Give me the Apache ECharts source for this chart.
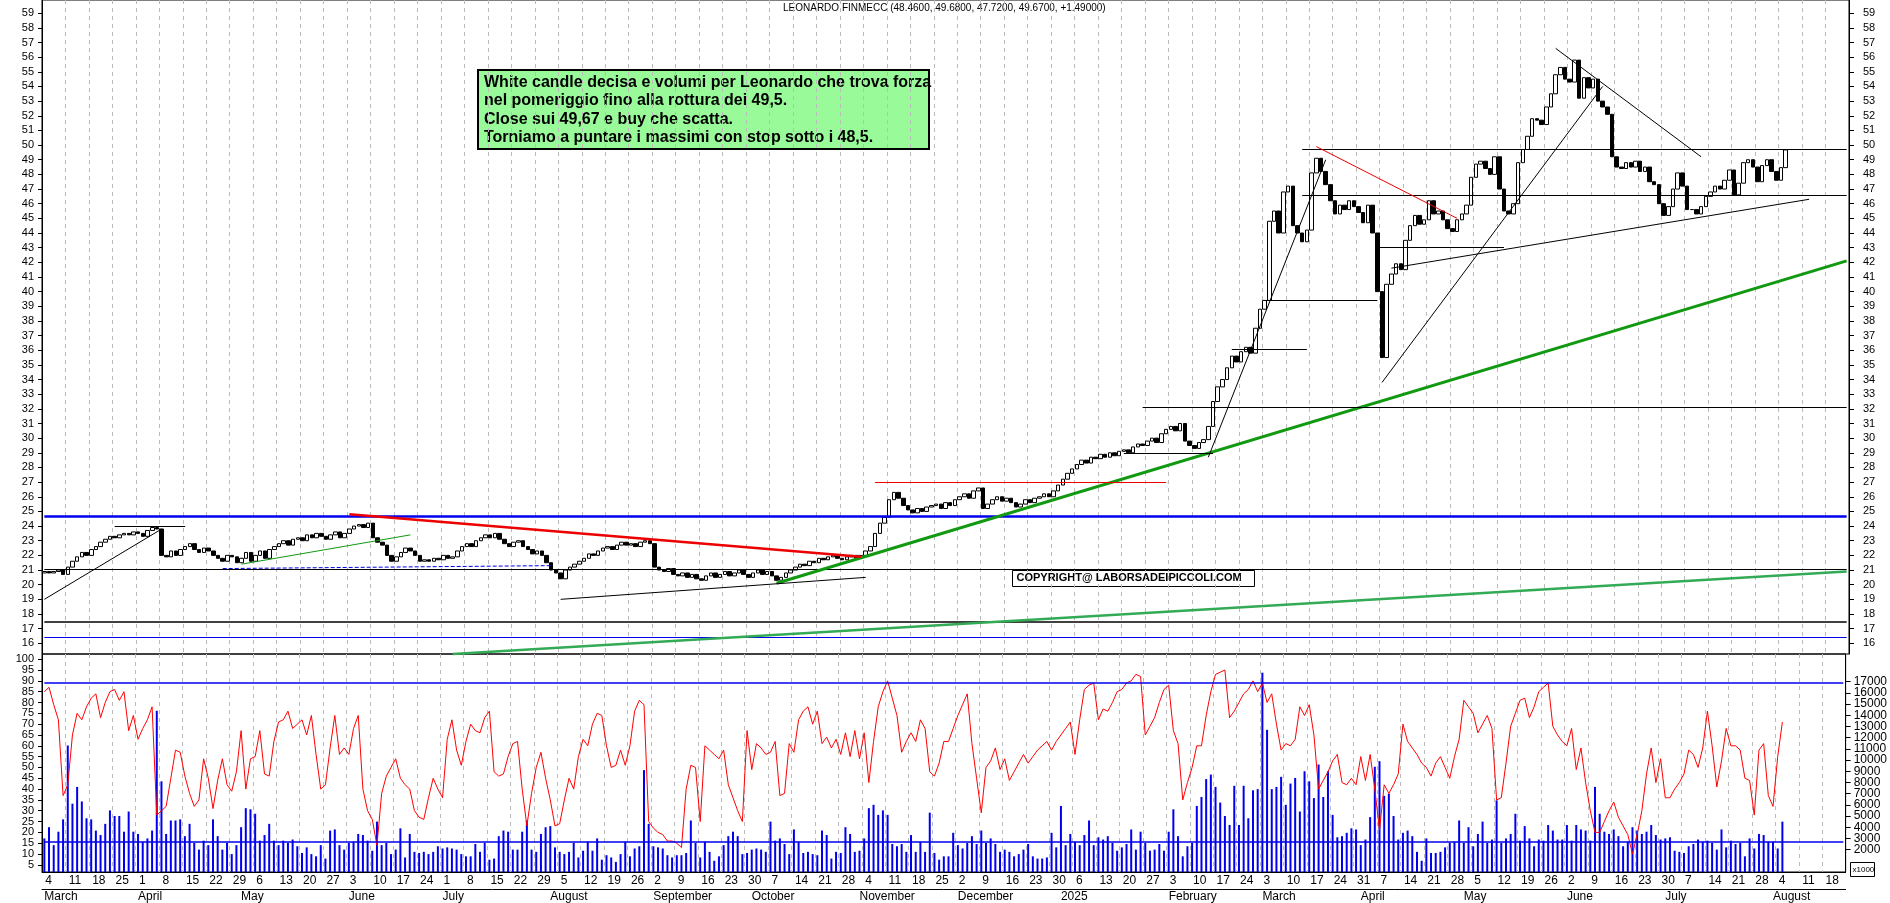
<!DOCTYPE html>
<html><head><meta charset="utf-8">
<script src="https://cdn.jsdelivr.net/npm/echarts@6/dist/echarts.min.js"></script>
<style>html,body{margin:0;padding:0;background:#fff}#c{width:1890px;height:903px}</style>
</head><body><div id="c"></div>
<script>
// closes, one line per week (Mon..Fri), 4 Mar 2024 .. 5 Aug 2025
var closes = [
20.9,20.8,20.9,21.0,20.7, 21.2,21.6,21.9,22.2,22.0, 22.4,22.6,22.9,23.1,23.3, 23.2,23.4,23.5,23.4,23.6,
23.5,23.3,23.7,23.9,23.8, 22.0,21.9,22.3,22.0,22.4, 22.6,22.8,22.4,22.2,22.5, 22.3,22.0,21.8,21.6,22.0,
21.9,21.5,21.8,22.2,21.6, 22.0,22.3,21.8,22.4,22.6, 22.8,23.0,22.7,23.1,23.2, 23.0,23.4,23.2,23.5,23.3,
23.1,23.4,23.6,23.2,23.5, 23.8,24.0,24.1,23.9,24.2, 23.2,22.9,22.7,22.0,21.6, 21.9,22.2,22.5,22.3,22.0,
21.6,21.7,21.6,21.8,21.7, 22.0,21.8,21.9,22.3,22.6, 22.8,22.6,23.0,23.2,23.4, 23.2,23.5,23.1,22.8,22.6,
22.9,23.0,22.6,22.4,22.1, 22.3,22.0,21.5,21.0,20.8, 20.4,21.0,21.2,21.4,21.6, 21.8,22.1,22.0,22.3,22.5,
22.6,22.4,22.7,22.9,22.7, 22.8,22.6,22.9,23.0,22.8, 21.2,21.0,20.9,21.1,20.7, 20.6,20.8,20.5,20.7,20.4,
20.3,20.6,20.8,20.5,20.7, 20.9,20.6,20.8,21.0,20.7, 20.5,20.8,21.0,20.7,20.9, 20.6,20.3,20.5,20.8,21.0,
21.2,21.4,21.3,21.6,21.5, 21.8,21.7,21.9,22.0,21.8, 21.7,21.9,22.0,21.8,22.0, 22.3,22.6,23.5,24.2,24.6,
25.8,26.3,25.9,25.4,25.1, 24.9,25.2,25.0,25.3,25.4, 25.5,25.2,25.6,25.4,25.8, 26.0,26.2,25.9,26.4,26.6,
25.2,25.5,25.8,26.0,25.7, 25.9,25.6,25.3,25.5,25.8, 25.6,25.9,26.0,26.2,26.0, 26.4,26.8,27.2,27.6,27.9,
28.2,28.5,28.3,28.7,28.6, 28.9,28.7,29.0,28.8,29.1, 29.2,29.0,29.4,29.6,29.5, 29.8,30.0,29.7,30.3,30.6,
30.8,30.5,31.0,29.8,29.5, 29.3,29.7,29.9,30.8,32.5, 33.5,34.0,34.8,35.6,35.2, 35.9,36.2,35.8,37.5,38.8,
39.4,44.8,45.5,44.0,46.8, 47.2,44.5,44.0,43.4,44.2, 48.1,49.1,48.2,47.3,46.2, 45.3,45.9,45.6,46.2,45.8,
45.4,44.7,45.9,44.0,40.0, 35.5,40.5,41.2,41.9,41.5, 43.5,44.5,45.2,44.6,44.9, 46.2,45.3,45.5,44.9,44.3,
44.1,44.9,45.3,45.9,47.8, 48.7,48.9,48.4,48.0,49.2, 47.0,45.5,45.3,46.0,48.8, 49.7,50.6,51.8,51.7,51.4,
52.6,53.5,54.8,55.3,54.5, 54.3,55.8,53.2,54.6,53.9, 54.5,53.0,52.6,52.1,49.2, 48.5,48.4,48.8,48.5,48.9,
48.2,48.5,47.5,47.3,46.0, 45.2,45.8,47.0,48.1,47.2, 45.6,45.6,45.3,45.8,46.5, 46.8,47.2,47.0,47.6,48.3,
46.6,47.4,48.8,49.0,48.5, 47.5,48.6,49.0,48.2,47.6, 48.46,49.67
];
var osc = [
85,87,79,72,37, 42,65,75,72,78, 82,84,73,80,85, 86,81,85,67,74, 63,68,72,78,28, 30,32,45,58,57,
46,38,32,35,54, 45,31,44,54,42, 39,48,67,40,54, 55,67,47,46,62, 71,72,76,68,70, 72,65,74,56,40,
42,59,74,56,59, 56,68,74,40,30, 26,14,38,46,50, 54,45,42,40,30, 27,26,36,45,40, 36,63,72,58,51,
62,70,67,66,73, 76,48,46,47,55, 61,62,40,23,38, 50,57,45,35,23, 24,35,45,40,55, 63,60,70,75,74,
60,50,51,58,51, 60,76,81,79,25, 22,20,19,16,16, 15,13,40,51,50, 25,60,58,56,54, 58,42,36,30,25,
67,49,61,59,56, 57,62,37,38,61, 57,72,76,78,70, 76,61,64,59,63, 56,66,55,67,54, 66,43,62,78,85,
90,82,74,57,62, 66,62,72,68,48, 46,52,62,62,68, 74,79,84,61,45, 29,50,53,59,49, 54,44,48,52,56,
52,55,58,60,62, 58,62,65,68,71, 56,72,86,88,89, 72,77,76,80,85, 86,89,90,93,92, 65,69,73,80,86,
88,67,61,35,43, 50,60,60,74,85, 93,94,95,73,76, 80,84,86,90,85, 89,80,84,70,58, 61,60,63,78,74,
79,65,40,44,48, 53,56,43,42,45, 42,55,44,56,40, 21,42,38,42,47, 70,62,59,56,52, 50,46,52,55,50,
45,55,63,81,78, 75,66,70,74,68, 35,36,52,69,75, 81,82,73,78,85, 87,89,69,65,62, 60,68,49,59,43,
30,20,20,25,30, 34,27,23,19,10, 19,30,47,59,43, 54,36,36,40,43, 47,58,56,50,59, 76,60,41,53,68,
60,60,58,45,44, 28,58,61,37,32, 55,71
];
// volume in thousands
var vol = [
3.0,4.0,2.4,3.6,4.7, 11.3,6.1,7.6,6.3,4.8, 4.7,3.7,3.3,4.3,5.5, 5.0,5.0,3.6,5.4,3.6, 3.4,2.7,3.0,3.7,14.4,
8.1,3.4,4.6,4.6,4.7, 3.2,4.3,2.6,2.0,2.8, 2.4,4.7,3.2,2.0,2.6, 1.6,2.4,4.0,5.7,5.6, 5.2,2.8,3.3,4.3,2.8,
2.4,2.8,2.6,2.9,2.3, 1.7,2.2,1.6,1.4,2.4, 1.2,3.7,3.8,2.4,2.0, 2.6,2.7,3.4,3.3,2.8, 1.9,4.5,2.4,2.6,1.6,
2.0,3.9,1.3,3.4,1.8, 1.7,1.8,1.6,1.8,2.3, 2.1,2.2,2.1,2.0,1.6, 1.4,1.4,2.5,1.8,2.6, 1.1,1.2,3.2,3.7,3.6,
2.0,2.0,3.6,4.6,2.0, 1.8,3.4,4.0,4.1,2.2, 1.8,1.6,1.8,2.6,1.3, 1.9,2.7,1.9,3.0,1.1, 1.5,1.3,0.9,1.6,2.7,
1.4,2.1,2.3,9.1,4.3, 2.3,2.2,2.1,1.5,1.3, 1.5,1.5,1.7,4.6,2.6, 1.3,2.7,1.8,1.0,1.4, 2.4,3.2,3.6,3.2,1.6,
1.7,2.0,2.1,2.0,1.8, 4.5,2.8,3.0,2.5,1.6, 3.8,2.7,1.7,1.8,1.6, 1.5,3.7,3.3,1.2,1.8, 1.7,4.0,3.4,1.8,1.9,
3.0,5.7,6.0,5.1,5.5, 5.1,2.5,2.3,2.5,1.8, 3.3,1.8,2.7,1.8,5.3, 1.7,1.1,1.4,1.4,3.5, 2.4,2.1,2.6,3.2,2.5,
3.7,2.6,3.0,2.5,1.8, 2.0,1.8,1.4,1.6,2.0, 2.5,1.4,1.2,1.2,1.3, 3.5,2.2,5.9,2.4,3.4, 2.7,2.4,3.3,4.6,2.4,
3.1,2.9,3.2,2.6,1.9, 2.2,2.5,3.8,2.0,3.6, 2.6,1.9,2.0,2.5,1.9, 3.6,5.6,3.2,1.4,2.3, 2.6,5.9,6.7,8.3,8.7,
7.6,6.2,5.0,4.2,7.7, 4.2,7.7,4.8,7.3,7.4, 17.8,12.7,7.4,7.6,8.5, 6.0,7.9,8.4,5.4,9.0, 8.1,6.6,9.6,6.7,9.0,
5.1,3.1,3.2,3.5,3.9, 3.8,2.4,2.9,4.9,9.4, 9.9,6.8,7.0,5.0,2.9, 3.5,3.7,3.2,1.8,1.0, 3.0,1.7,1.7,1.8,2.2,
2.6,2.7,4.6,2.6,4.0, 2.3,3.4,4.5,2.6,2.9, 6.4,2.6,3.0,3.4,5.2, 2.8,4.1,3.0,2.3,2.9, 2.8,4.2,3.7,2.9,2.9,
4.2,2.8,4.2,3.8,3.7, 2.8,7.6,5.2,3.6,3.4, 3.8,3.2,2.3,2.7,4.0, 3.7,3.4,3.6,4.2,3.3, 2.9,3.0,3.1,1.9,1.8,
1.7,2.3,2.5,2.9,2.7, 2.8,2.6,2.0,3.8,2.2, 2.8,2.5,2.6,1.4,3.0, 2.1,3.4,3.3,2.7,2.7, 2.1,4.5
];
var priceTicks = [];
for (var p = 16; p <= 59; p++) priceTicks.push(p);
var oscTicks = [5,10,15,20,25,30,35,40,45,50,55,60,65,70,75,80,85,90,95,100];
var volTicks = [1000,2000,3000,4000,5000,6000,7000,8000,9000,10000,11000,12000,13000,14000,15000,16000,17000,18000];
var months = ['January','February','March','April','May','June','July','August','September','October','November','December'];

// trading days (weekdays) up to the end of the axis
var dates = [];
var d = new Date(Date.UTC(2024, 2, 4));
var end = new Date(Date.UTC(2025, 7, 22));
while (d <= end) {
    var wd = d.getUTCDay();
    if (wd > 0 && wd < 6) dates.push(d.toISOString().slice(0, 10));
    d = new Date(d.getTime() + 86400000);
}
function dayOf(s){ return new Date(s + 'T00:00:00Z'); }
function isMonday(i){ return dayOf(dates[i]).getUTCDay() === 1; }
function isMonthStart(i){ return i === 0 || dates[i].slice(5, 7) !== dates[i - 1].slice(5, 7); }

var candles = [];
for (var i = 0; i < closes.length; i++) {
    var o = i === 0 ? closes[0] - 0.1 : closes[i - 1];
    var c = closes[i];
    candles.push([o, c, Math.min(o, c), Math.max(o, c)]);
}
var volData = vol.map(function(v){ return v * 1000; });

function seg(a, va, b, vb, color, width, type){
    return [{coord: [a, va], lineStyle: {color: color, width: width, type: type || 'solid'}}, {coord: [b, vb]}];
}
var last = dates[dates.length - 1];
var priceLines = [
    seg('2024-03-04', 24.7, last, 24.7, '#0000ee', 2.5),
    seg('2024-03-04', 21.05, last, 21.05, '#000', 1.2),
    seg('2024-03-04', 17.5, last, 17.5, '#000', 1.5),
    seg('2024-03-04', 16.4, last, 16.4, '#0000ee', 1.2),
    seg('2024-10-08', 20.1, last, 42.1, '#119911', 3),
    seg('2024-07-03', 15.27, last, 20.9, '#33aa55', 2.5),
    seg('2024-03-04', 19.0, '2024-04-08', 23.8, '#000', 1),
    seg('2024-03-25', 24.0, '2024-04-15', 24.0, '#000', 1),
    seg('2024-06-03', 24.8, '2024-11-01', 21.9, '#ee0000', 2.5),
    seg('2024-04-25', 21.1, '2024-08-01', 21.3, '#0000ee', 1, 'dashed'),
    seg('2024-05-01', 21.4, '2024-06-20', 23.4, '#119911', 1),
    seg('2024-08-05', 19.0, '2024-11-04', 20.5, '#000', 1),
    seg('2024-11-06', 27.0, '2025-01-31', 27.0, '#ee0000', 1),
    seg('2025-01-20', 29.0, '2025-02-14', 29.0, '#000', 1),
    seg('2025-01-24', 32.1, last, 32.1, '#000', 1.2),
    seg('2025-02-13', 28.7, '2025-03-20', 49.0, '#000', 1),
    seg('2025-02-20', 36.1, '2025-03-14', 36.1, '#000', 1),
    seg('2025-03-03', 39.4, '2025-04-04', 39.4, '#000', 1.2),
    seg('2025-03-13', 49.7, last, 49.7, '#000', 1.2),
    seg('2025-03-13', 46.6, last, 46.6, '#000', 1.2),
    seg('2025-03-18', 49.9, '2025-04-29', 45.0, '#ee0000', 1),
    seg('2025-04-04', 43.0, '2025-05-13', 43.0, '#000', 1),
    seg('2025-04-09', 41.6, '2025-08-12', 46.3, '#000', 1),
    seg('2025-04-07', 33.8, '2025-06-11', 54.0, '#000', 1),
    seg('2025-05-28', 56.6, '2025-07-10', 49.2, '#000', 1)
];
var oscLines = [
    seg('2024-03-04', 89, last, 89, '#0000ee', 1.5),
    seg('2024-03-04', 15.5, last, 15.5, '#0000ee', 1.5)
];

var font = 'Liberation Sans';
var chart = echarts.init(document.getElementById('c'));
var splitV = {show: true, interval: function(i){ return isMonday(i); }, lineStyle: {color: '#bbb', type: [4, 4]}};
chart.setOption({
    animation: false,
    backgroundColor: '#fff',
    grid: [
        {left: 42, right: 41, top: 0, height: 654, show: true, borderColor: '#000', borderWidth: 1},
        {left: 42, right: 41, top: 654, height: 224, show: true, borderColor: '#000', borderWidth: 1}
    ],
    xAxis: [
        {type: 'category', gridIndex: 0, data: dates, boundaryGap: true,
         axisLine: {show: false}, axisTick: {show: false}, axisLabel: {show: false}, splitLine: splitV},
        {type: 'category', gridIndex: 1, data: dates, boundaryGap: true,
         axisLine: {lineStyle: {color: '#000'}},
         axisTick: {interval: function(i){ return isMonday(i); }, length: 16, inside: false, lineStyle: {color: '#000'}},
         axisLabel: {interval: function(i){ return isMonday(i); }, formatter: function(v){ return String(dayOf(v).getUTCDate()); },
                     color: '#000', fontFamily: font, fontSize: 12, margin: 3, align: 'left', padding: [0, 0, 0, 1]},
         splitLine: splitV},
        {type: 'category', gridIndex: 1, data: dates, boundaryGap: true, position: 'bottom', offset: 17,
         axisLine: {lineStyle: {color: '#000'}},
         axisTick: {interval: function(i){ return isMonthStart(i); }, length: 10, inside: true, lineStyle: {color: '#000'}},
         axisLabel: {interval: function(i){ return isMonthStart(i); },
                     formatter: function(v){ var m = +v.slice(5, 7) - 1; return (m === 0 ? v.slice(0, 4) : months[m]); },
                     color: '#000', fontFamily: font, fontSize: 12, margin: 2, align: 'left'}}
    ],
    yAxis: [
        {type: 'value', gridIndex: 0, min: 15.27, max: 59.9, position: 'left',
         axisLine: {show: true, lineStyle: {color: '#000'}}, splitLine: {show: false},
         axisTick: {show: true, customValues: priceTicks, length: 4, lineStyle: {color: '#000'}},
         axisLabel: {customValues: priceTicks, color: '#000', fontFamily: font, fontSize: 11, margin: 8}},
        {type: 'value', gridIndex: 0, min: 15.27, max: 59.9, position: 'right',
         axisLine: {show: true, lineStyle: {color: '#000'}}, splitLine: {show: false},
         axisTick: {show: true, customValues: priceTicks, length: 5, lineStyle: {color: '#000'}},
         axisLabel: {customValues: priceTicks, color: '#000', fontFamily: font, fontSize: 11, margin: 14}},
        {type: 'value', gridIndex: 1, min: 1.7, max: 102.4, position: 'left',
         axisLine: {show: true, lineStyle: {color: '#000'}}, splitLine: {show: false},
         axisTick: {show: true, customValues: oscTicks, length: 4, lineStyle: {color: '#000'}},
         axisLabel: {customValues: oscTicks, color: '#000', fontFamily: font, fontSize: 11, margin: 8}},
        {type: 'value', gridIndex: 1, min: 0, max: 19470, position: 'right',
         axisLine: {show: true, lineStyle: {color: '#000'}}, splitLine: {show: false},
         axisTick: {show: true, customValues: volTicks, length: 5, lineStyle: {color: '#000'}},
         axisLabel: {customValues: volTicks, formatter: function(v){ return String(v); },
                     color: '#000', fontFamily: font, fontSize: 12, margin: 8}}
    ],
    series: [
        {type: 'candlestick', xAxisIndex: 0, yAxisIndex: 0, data: candles, barWidth: 4,
         itemStyle: {color: '#fff', color0: '#000', borderColor: '#000', borderColor0: '#000', borderWidth: 1},
         markLine: {silent: true, symbol: 'none', label: {show: false}, data: priceLines}},
        {type: 'bar', xAxisIndex: 1, yAxisIndex: 3, data: volData, barWidth: 2, itemStyle: {color: '#0000ee'}},
        {type: 'line', xAxisIndex: 1, yAxisIndex: 2, data: osc, symbol: 'none', lineStyle: {color: '#ff0000', width: 1},
         markLine: {silent: true, symbol: 'none', label: {show: false}, data: oscLines}}
    ],
    graphic: [
        {type: 'text', left: 783, top: 3, style: {text: 'LEONARDO FINMECC (48.4600, 49.6800, 47.7200, 49.6700, +1.49000)', font: '10px Liberation Sans', fill: '#000'}},
        {type: 'group', left: 477, top: 69, children: [
            {type: 'rect', shape: {x: 0, y: 0, width: 451, height: 79}, style: {fill: '#98fa98', stroke: '#000', lineWidth: 2}},
            {type: 'text', x: 6, y: 3, style: {text: 'White candle decisa e volumi per Leonardo che trova forza\nnel pomeriggio fino alla rottura dei 49,5.\nClose sui 49,67 e buy che scatta.\nTorniamo a puntare i massimi con stop sotto i 48,5.',
                font: 'bold 16px "Liberation Sans Narrow", "Liberation Sans"', lineHeight: 18.5, fill: '#000'}}
        ]},
        {type: 'group', left: 1012, top: 570, children: [
            {type: 'rect', shape: {x: 0, y: 0, width: 242, height: 16}, style: {fill: '#fff', stroke: '#000', lineWidth: 1}},
            {type: 'text', x: 4, y: 2, style: {text: 'COPYRIGHT@ LABORSADEIPICCOLI.COM', font: 'bold 11px Liberation Sans', fill: '#000'}}
        ]},
        {type: 'group', left: 1850, top: 862, children: [
            {type: 'rect', shape: {x: 0, y: 0, width: 24, height: 14}, style: {fill: '#fff', stroke: '#000', lineWidth: 1}},
            {type: 'text', x: 2, y: 3, style: {text: 'x1000', font: '8px Liberation Sans', fill: '#000'}}
        ]}
    ]
});
</script>
</body></html>
